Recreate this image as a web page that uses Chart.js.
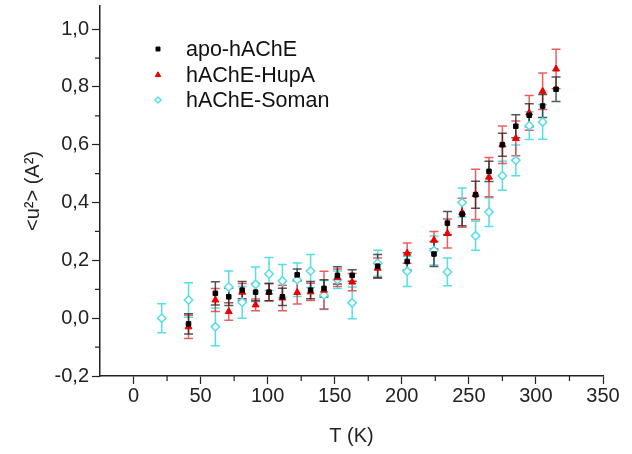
<!DOCTYPE html>
<html>
<head>
<meta charset="utf-8">
<script src="https://cdn.jsdelivr.net/npm/chart.js@4.4.1/dist/chart.umd.min.js"></script>
<style>
  html, body { margin: 0; padding: 0; background: #fff; }
  #msdChart { display: block; }
</style>
</head>
<body>
<canvas id="msdChart" width="632" height="454"></canvas>
<script>
// temperatures (K)
const tempK = [21, 41, 61, 71, 81, 91, 101, 111, 122, 132, 142, 152, 163, 182, 204, 224, 234, 245, 255, 265, 275, 285, 295, 305, 315];

const apoValues = [null, -0.02, 0.086, 0.074, 0.097, 0.09, 0.09, 0.074, 0.15, 0.097, 0.103, 0.148, 0.148, 0.18, 0.196, 0.222, 0.329, 0.36, 0.427, 0.508, 0.60, 0.664, 0.702, 0.734, 0.792];
const apoErrors = [null, 0.035, 0.04, 0.03, 0.03, 0.03, 0.03, 0.03, 0.02, 0.03, 0.03, 0.03, 0.02, 0.04, 0.03, 0.043, 0.04, 0.04, 0.047, 0.035, 0.04, 0.04, 0.04, 0.04, 0.042];

const hupaValues = [null, -0.03, 0.063, 0.023, 0.09, 0.046, 0.09, 0.07, 0.089, 0.091, 0.097, 0.14, 0.125, 0.173, 0.225, 0.27, 0.293, 0.365, 0.428, 0.488, 0.60, 0.622, 0.71, 0.785, 0.862];
const hupaErrors = [null, 0.04, 0.04, 0.03, 0.03, 0.02, 0.03, 0.044, 0.04, 0.03, 0.065, 0.03, 0.03, 0.035, 0.035, 0.03, 0.05, 0.05, 0.087, 0.068, 0.065, 0.06, 0.06, 0.063, 0.068];

const somanValues = [0.0, 0.063, -0.03, 0.108, 0.055, 0.117, 0.153, 0.129, 0.133, 0.163, 0.08, 0.133, 0.053, 0.19, 0.162, 0.234, 0.16, 0.40, 0.285, 0.367, 0.493, 0.546, 0.666, 0.679, null];
const somanErrors = [0.05, 0.06, 0.065, 0.055, 0.055, 0.06, 0.057, 0.057, 0.058, 0.057, 0.05, 0.03, 0.055, 0.045, 0.052, 0.05, 0.048, 0.05, 0.05, 0.05, 0.05, 0.053, 0.048, 0.06, null];

const seriesNames = ['apo-hAChE', 'hAChE-HupA', 'hAChE-Soman'];
const xTickLabels = [0, 50, 100, 150, 200, 250, 300, 350];
const yTickLabels = [-0.2, 0, 0.2, 0.4, 0.6, 0.8, 1.0];

const FONT = "'Liberation Sans', Arial, sans-serif";
const cyan = 'rgb(85,222,230)';

function points(vals, errs) {
  const pts = [], e = [];
  tempK.forEach((t, i) => {
    if (vals[i] === null) return;
    pts.push({ x: t, y: vals[i] });
    e.push(errs[i]);
  });
  return { pts, e };
}

const apo = points(apoValues, apoErrors);
const hupa = points(hupaValues, hupaErrors);
const soman = points(somanValues, somanErrors);

const datasets = [
  {
    label: seriesNames[0], data: apo.pts, errors: apo.e,
    errColor: 'rgba(30,30,30,0.75)',
    pointStyle: 'rect', pointRadius: 3.2,
    backgroundColor: '#000', borderColor: '#000', borderWidth: 1
  },
  {
    label: seriesNames[1], data: hupa.pts, errors: hupa.e,
    errColor: 'rgba(230,40,40,0.75)',
    pointStyle: 'triangle', pointRadius: 4,
    backgroundColor: 'rgb(235,0,0)', borderColor: 'rgb(235,0,0)', borderWidth: 1
  },
  {
    label: seriesNames[2], data: soman.pts, errors: soman.e,
    errColor: cyan,
    pointStyle: 'rectRot', pointRadius: 4.2,
    backgroundColor: '#fff', borderColor: cyan, borderWidth: 1.5
  }
];

// vertical error bars with caps, drawn under the markers
const errorBars = {
  id: 'errorBars',
  beforeDatasetsDraw(chart) {
    const ctx = chart.ctx;
    const yScale = chart.scales.y;
    for (let i = chart.data.datasets.length - 1; i >= 0; i--) {
      const ds = chart.data.datasets[i];
      const meta = chart.getDatasetMeta(i);
      ctx.save();
      ctx.strokeStyle = ds.errColor;
      ctx.lineWidth = 1.5;
      meta.data.forEach((pt, j) => {
        const v = ds.data[j].y, e = ds.errors[j];
        const top = yScale.getPixelForValue(v + e);
        const bot = yScale.getPixelForValue(v - e);
        ctx.beginPath();
        ctx.moveTo(pt.x, top); ctx.lineTo(pt.x, bot);
        ctx.moveTo(pt.x - 4.5, top); ctx.lineTo(pt.x + 4.5, top);
        ctx.moveTo(pt.x - 4.5, bot); ctx.lineTo(pt.x + 4.5, bot);
        ctx.stroke();
      });
      ctx.restore();
    }
  }
};

// minor ticks (shorter) on both axes
const minorTicks = {
  id: 'minorTicks',
  afterDraw(chart) {
    const ctx = chart.ctx;
    const xs = chart.scales.x, ys = chart.scales.y;
    ctx.save();
    ctx.strokeStyle = '#222';
    ctx.lineWidth = 1.2;
    ctx.beginPath();
    for (let v = 25; v < 350; v += 50) {
      const px = xs.getPixelForValue(v);
      ctx.moveTo(px, xs.top); ctx.lineTo(px, xs.top + 5);
    }
    for (let v = -0.1; v < 1.0; v += 0.2) {
      const py = ys.getPixelForValue(v);
      ctx.moveTo(ys.right, py); ctx.lineTo(ys.right - 5, py);
    }
    ctx.stroke();
    ctx.restore();
  }
};

// legend inside the plot, top left
const insideLegend = {
  id: 'insideLegend',
  afterDraw(chart) {
    const ctx = chart.ctx;
    const rows = [49, 75, 100];
    const sizes = [2.8, 3.2, 3];
    ctx.save();
    ctx.font = '21.5px ' + FONT;
    ctx.textBaseline = 'middle';
    ctx.textAlign = 'left';
    chart.data.datasets.forEach((ds, i) => {
      ctx.fillStyle = ds.backgroundColor;
      ctx.strokeStyle = ds.borderColor;
      ctx.lineWidth = ds.borderWidth;
      Chart.helpers.drawPoint(ctx, { pointStyle: ds.pointStyle, radius: sizes[i], rotation: 0, borderWidth: ds.borderWidth }, 158, rows[i]);
      ctx.fillStyle = '#111';
      ctx.fillText(ds.label, 186, rows[i] + 1);
    });
    ctx.restore();
  }
};

function comma(v) {
  const r = Math.round(v * 10) / 10;
  return (r === 0 ? 0 : r).toFixed(1).replace('.', ',');
}

new Chart(document.getElementById('msdChart').getContext('2d'), {
  type: 'scatter',
  data: { datasets: datasets },
  plugins: [errorBars, minorTicks, insideLegend],
  options: {
    responsive: false,
    animation: false,
    layout: { padding: { left: 0, right: 29, top: 3, bottom: 0 } },
    plugins: {
      legend: { display: false },
      tooltip: { enabled: false }
    },
    scales: {
      x: {
        type: 'linear',
        min: -25, max: 350,
        afterFit: (s) => { s.height = 78; },
        afterBuildTicks: (s) => { s.ticks = xTickLabels.map(v => ({ value: v })); },
        grid: { drawOnChartArea: false, drawTicks: true, tickLength: 8, tickColor: '#222', tickWidth: 1.2 },
        border: { color: '#222', width: 1.5 },
        ticks: { color: '#222', font: { family: FONT, size: 20 }, padding: 0, maxRotation: 0 },
        title: { display: true, text: 'T (K)', color: '#222', font: { family: FONT, size: 20 }, padding: { top: 0, bottom: 6 } }
      },
      y: {
        type: 'linear',
        min: -0.2, max: 1.08,
        afterFit: (s) => { s.width = 100; },
        afterBuildTicks: (s) => { s.ticks = yTickLabels.map(v => ({ value: v })); },
        grid: { drawOnChartArea: false, drawTicks: true, tickLength: 8, tickColor: '#222', tickWidth: 1.2 },
        border: { color: '#222', width: 1.5 },
        ticks: { color: '#222', font: { family: FONT, size: 20, lineHeight: 0.3 }, padding: 3, callback: (v) => comma(v) },
        title: { display: true, text: '<u²> (A²)', color: '#222', font: { family: FONT, size: 20 }, padding: { top: 21, bottom: 0 } }
      }
    }
  }
});
</script>
</body>
</html>
